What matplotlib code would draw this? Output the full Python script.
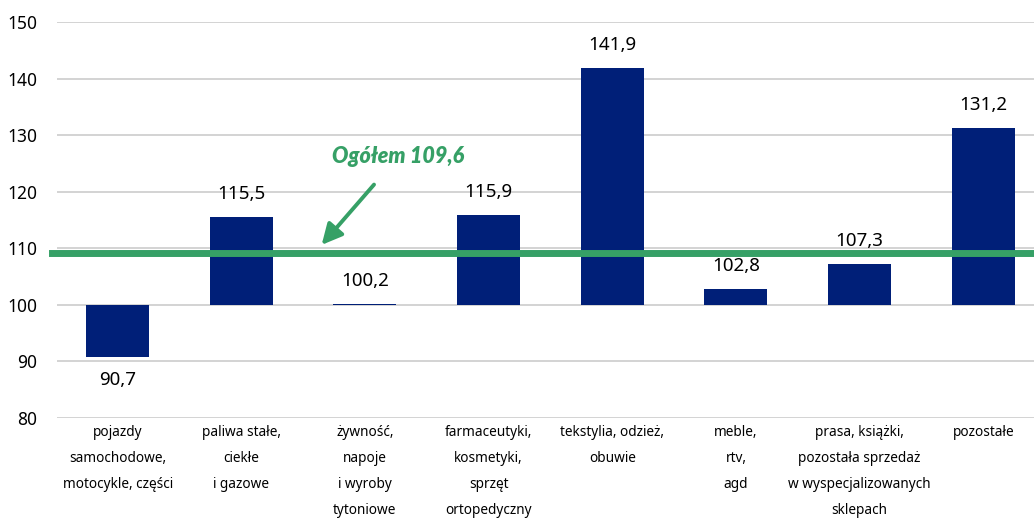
import numpy as np
import matplotlib.pyplot as plt

categories = ['pojazdy\nsamochodowe,\nmotocykle, części',
              'paliwa stałe,\nciekłe\ni gazowe',
              'żywność,\nnapoje\ni wyroby\ntytoniowe',
              'farmaceutyki,\nkosmetyki,\nsprzęt\nortopedyczny',
              'tekstylia, odzież,\nobuwie',
              'meble,\nrtv,\nagd',
              'prasa, książki,\npozostała sprzedaż\nw wyspecjalizowanych\nsklepach',
              'pozostałe']
values = [90.7, 115.5, 100.2, 115.9, 141.9, 102.8, 107.3, 131.2]
total = 109.6
total_label = 'Ogółem 109,6'

plt.rcParams['font.family'] = ['Noto Sans', 'DejaVu Sans']

navy = '#001f78'
green = '#36a066'

fig = plt.figure(figsize=(10.34, 5.22), dpi=100)
ax = fig.add_axes([0.0551, 0.1992, 0.9449, 0.7587])

x = np.arange(len(values))
base = 100
heights = [v - base for v in values]
ax.bar(x, heights, 0.51, bottom=base, color=navy, zorder=3)

for xi, v in zip(x, values):
    txt = f'{v:.1f}'.replace('.', ',')
    if v >= base:
        ax.annotate(txt, (xi, v), xytext=(0, 10), textcoords='offset points',
                    ha='center', va='bottom', fontsize=13.5, color='black')
    else:
        ax.annotate(txt, (xi, v), xytext=(0, -10), textcoords='offset points',
                    ha='center', va='top', fontsize=13.5, color='black')

# total line
ax.axhline(109.2, color=green, lw=5, zorder=4, xmin=-0.005, clip_on=False)

ax.annotate(total_label, xy=(1.65, 110.6), xytext=(2.27, 126.2),
            ha='center', va='center', fontsize=15.5, color=green,
            family=['Lato', 'DejaVu Sans'], fontweight='heavy', fontstyle='italic',
            arrowprops=dict(arrowstyle='-|>,head_length=0.8,head_width=0.4',
                            color=green, lw=2.8, shrinkA=14, shrinkB=0))

ax.set_ylim(80, 150)
ax.set_yticks(np.arange(80, 151, 10))
ax.set_xlim(-0.49, 7.41)
ax.set_xticks(x)
ax.set_xticklabels(categories, fontsize=9.8, linespacing=2.0, va='top')
ax.tick_params(axis='both', length=0)
ax.tick_params(axis='x', pad=5)
ax.tick_params(axis='y', labelsize=12.5, pad=14)

ax.grid(True, 'major', 'y', color='#d0d0d0', lw=1.3, zorder=0)
ax.set_axisbelow(True)
for s in ax.spines.values():
    s.set_visible(False)

fig.savefig('out.png', dpi=100)
